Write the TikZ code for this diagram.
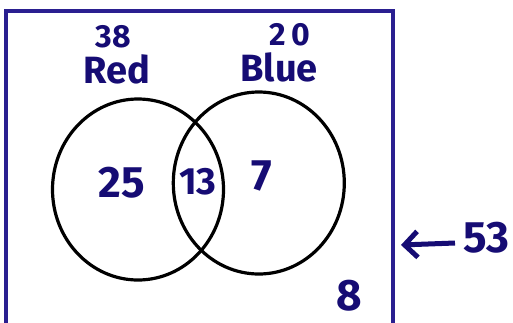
\documentclass[tikz,border=0pt]{standalone}
\usepackage{fontspec}
\setmainfont{Fira Sans}
\usetikzlibrary{arrows.meta,shapes.geometric}
\definecolor{ink}{HTML}{160C74}
\definecolor{frame}{HTML}{2A1F90}
\tikzset{
  lbl/.style={text=ink, font=\fontsize{32}{34}\selectfont\bfseries, inner sep=0pt},
  big/.style={text=ink, font=\fontsize{44}{46}\selectfont\bfseries, inner sep=0pt},
  word/.style={text=ink, font=\fontsize{38}{40}\selectfont\bfseries, inner sep=0pt},
  ring/.style={draw=black, line width=3.2pt},
}
\begin{document}
\begin{tikzpicture}[x=1pt,y=-1pt]
\useasboundingbox (0,0) rectangle (513,322);
\clip (0,0) rectangle (513,322);
\draw[frame, line width=3.4pt] (6,340) -- (6,11) -- (393,11) -- (393,340);
\node[ring, ellipse, minimum width=171pt, minimum height=181pt, inner sep=0pt] (red) at (138,189.5) {};
\node[ring, ellipse, minimum width=171pt, minimum height=182pt, inner sep=0pt] (blue) at (258.8,183) {};
\node[lbl] (n38) at (113,37) {38};
\node[word] (tred) at (117,69) {Red};
\node[lbl] (n20) at (290,35) {2\,0};
\node[word] (tblue) at (279,67) {Blue};
\node[big] (n25) at (122,183) {25};
\node[lbl, font=\fontsize{38}{40}\selectfont\bfseries] (n13) at (198,182) {13};
\node[big] (n7) at (262,176) {7};
\node[big] (n8) at (349,296) {8};
\node[big, anchor=west] (n53) at (463,238) {53};
\coordinate (tip) at (401,245);
\draw[ink, line width=5pt, -{Straight Barb[length=13pt,width=26pt,line width=5pt]}] (n53.west) ++(-8,5) -- (tip);
\end{tikzpicture}
\end{document}
